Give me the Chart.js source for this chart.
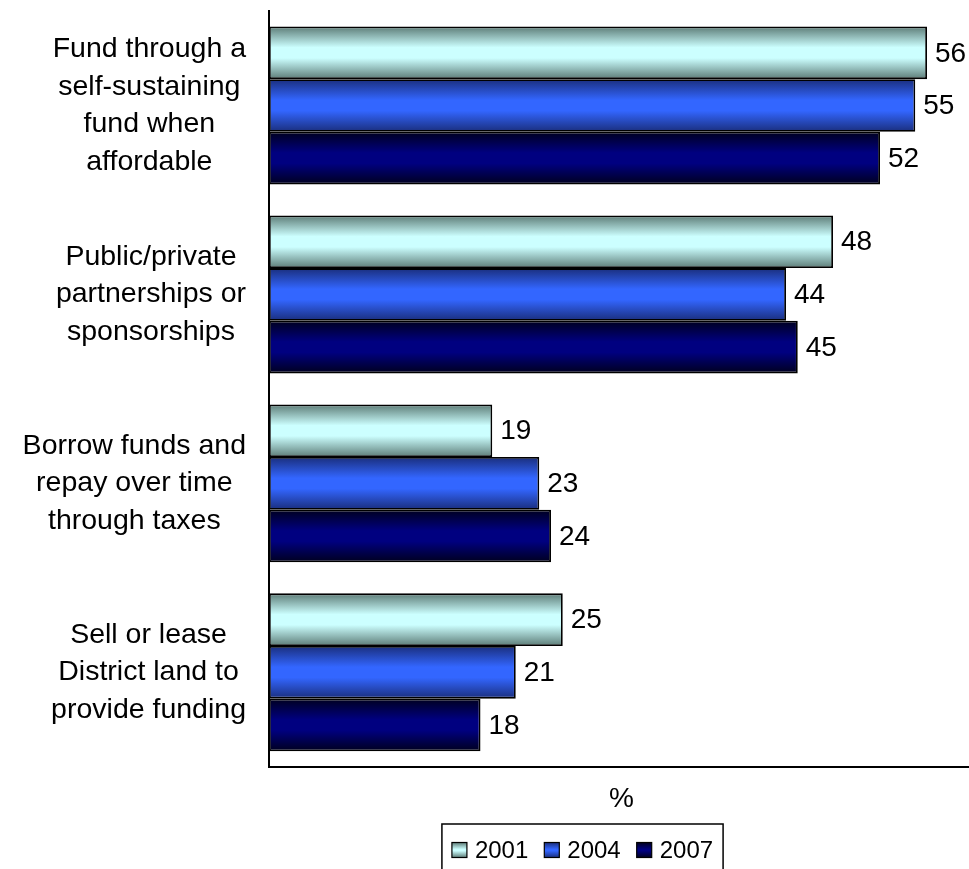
<!DOCTYPE html>
<html>
<head>
<meta charset="utf-8">
<script src="https://cdn.jsdelivr.net/npm/chart.js@4/dist/chart.umd.min.js"></script>
<style>
  html, body { margin: 0; padding: 0; background: #fff; overflow: hidden; }
  #wrap { width: 969px; height: 869px; overflow: hidden; }
</style>
</head>
<body>
<div id="wrap"><canvas id="c" width="976" height="869"></canvas></div>
<script>
// Funding options, one multi-line label each
const categories = [
  ['Fund through a', 'self-sustaining', 'fund when', 'affordable'],
  ['Public/private', 'partnerships or', 'sponsorships'],
  ['Borrow funds and', 'repay over time', 'through taxes'],
  ['Sell or lease', 'District land to', 'provide funding']
];
const years = ['2001', '2004', '2007'];
const values2001 = [56, 48, 19, 25];
const values2004 = [55, 44, 23, 21];
const values2007 = [52, 45, 24, 18];
const axisTitle = '%';

const FONT = "'Liberation Sans', Arial, Helvetica, sans-serif";

// Edge / centre colours for the cylinder-like shading of each series
const shades = [
  { edge: '#5c7b76', mid: '#ccffff' },
  { edge: '#1a2e7c', mid: '#3366ff' },
  { edge: '#00001e', mid: '#000080' }
];

function barShade(ctx) {
  const s = shades[ctx.datasetIndex];
  const chart = ctx.chart;
  const meta = chart.getDatasetMeta(ctx.datasetIndex);
  const el = meta && meta.data[ctx.dataIndex];
  if (!el || !isFinite(el.y) || !isFinite(el.height) || !el.height) return s.mid;
  const top = el.y - el.height / 2;
  const g = chart.ctx.createLinearGradient(0, top, 0, top + el.height);
  g.addColorStop(0, s.edge);
  g.addColorStop(0.4, s.mid);
  g.addColorStop(0.6, s.mid);
  g.addColorStop(1, s.edge);
  return g;
}

// Category labels: each block centred on its own widest line, right edge fixed
const categoryLabels = {
  id: 'categoryLabels',
  afterDraw(chart) {
    const { ctx } = chart;
    const y = chart.scales.y;
    const rightEdge = 246, lineH = 37.5;
    ctx.save();
    ctx.font = '28.5px ' + FONT;
    ctx.fillStyle = '#000';
    ctx.textAlign = 'center';
    ctx.textBaseline = 'middle';
    categories.forEach((lines, i) => {
      const cy = y.getPixelForValue(i);
      const w = Math.max(...lines.map(l => ctx.measureText(l).width));
      const cx = rightEdge - w / 2;
      const y0 = cy - (lines.length - 1) * lineH / 2;
      lines.forEach((l, k) => ctx.fillText(l, cx, y0 + k * lineH));
    });
    ctx.restore();
  }
};

// Value labels just past the end of each bar
const valueLabels = {
  id: 'valueLabels',
  afterDatasetsDraw(chart) {
    const { ctx } = chart;
    ctx.save();
    ctx.font = '28px ' + FONT;
    ctx.fillStyle = '#000';
    ctx.textAlign = 'left';
    ctx.textBaseline = 'middle';
    chart.data.datasets.forEach((ds, di) => {
      chart.getDatasetMeta(di).data.forEach((el, i) => {
        ctx.fillText(String(ds.data[i]), el.x + 8, el.y + 1);
      });
    });
    ctx.restore();
  }
};

// Boxed legend below the axis title
const boxedLegend = {
  id: 'boxedLegend',
  afterDraw(chart) {
    const { ctx } = chart;
    ctx.save();
    ctx.font = '24px ' + FONT;
    const box = 15, gapText = 8, gapItem = 16, padX = 10;
    const widths = years.map(t => ctx.measureText(t).width);
    let total = padX * 2;
    widths.forEach((w, i) => { total += box + gapText + w + (i < years.length - 1 ? gapItem : 0); });
    const centerX = 582.5, top = 824, cy = 850;
    const left = centerX - total / 2;
    ctx.strokeStyle = '#000';
    ctx.lineWidth = 1.5;
    ctx.strokeRect(left, top, total, 60);
    let x = left + padX;
    ctx.textAlign = 'left';
    ctx.textBaseline = 'middle';
    years.forEach((t, i) => {
      const s = shades[i];
      const g = ctx.createLinearGradient(0, cy - box / 2, 0, cy + box / 2);
      g.addColorStop(0, s.edge); g.addColorStop(0.45, s.mid); g.addColorStop(0.55, s.mid); g.addColorStop(1, s.edge);
      ctx.fillStyle = g;
      ctx.fillRect(x, cy - box / 2, box, box);
      ctx.lineWidth = 1.2;
      ctx.strokeRect(x, cy - box / 2, box, box);
      ctx.fillStyle = '#000';
      ctx.fillText(t, x + box + gapText, cy + 1);
      x += box + gapText + widths[i] + gapItem;
    });
    ctx.restore();
  }
};

const seriesValues = [values2001, values2004, values2007];

const chart = new Chart(document.getElementById('c'), {
  type: 'bar',
  data: {
    labels: categories,
    datasets: years.map((yr, i) => ({
      label: yr,
      data: seriesValues[i],
      backgroundColor: barShade,
      borderColor: '#000',
      borderWidth: 1.8,
      borderSkipped: false,
      categoryPercentage: 0.836,
      barPercentage: 1.0
    }))
  },
  options: {
    indexAxis: 'y',
    responsive: false,
    animation: false,
    events: [],
    layout: { padding: { left: 269, top: 11, right: 2, bottom: 48.6 } },
    plugins: { legend: { display: false }, tooltip: { enabled: false } },
    scales: {
      x: {
        position: 'bottom',
        min: 0,
        max: 60,
        grid: { display: false, drawTicks: false },
        ticks: { display: false },
        border: { display: true, color: '#000', width: 2 },
        title: {
          display: true,
          text: axisTitle,
          color: '#000',
          font: { family: FONT, size: 28 },
          padding: { top: 16, bottom: 4 }
        }
      },
      y: {
        grid: { display: false, drawTicks: false },
        ticks: { display: false },
        border: { display: true, color: '#000', width: 2 }
      }
    }
  },
  plugins: [categoryLabels, valueLabels, boxedLegend]
});
// second pass so the shading can follow each bar's final position
chart.update('none');
</script>
</body>
</html>
